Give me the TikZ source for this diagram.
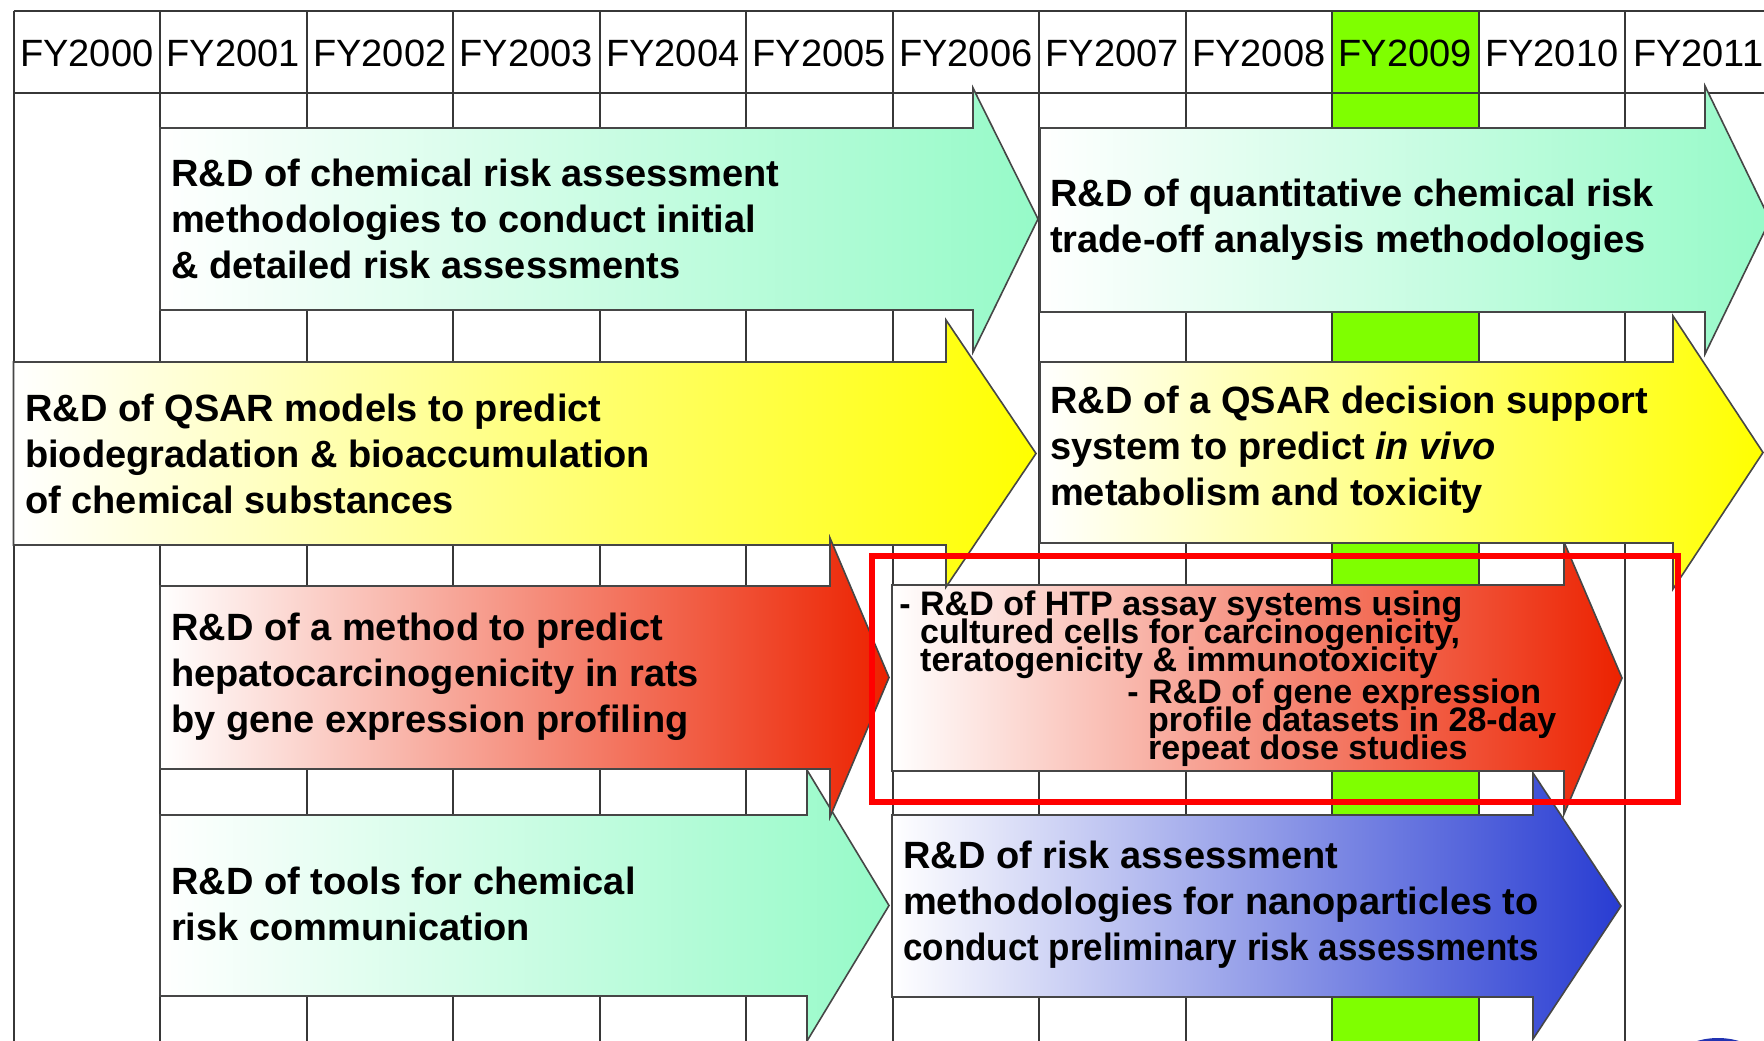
\documentclass[tikz,border=0pt]{standalone}
\usepackage{fontspec}
\setmainfont{Liberation Sans}
\definecolor{mint}{RGB}{150,250,200}
\definecolor{yel}{RGB}{255,255,0}
\definecolor{redd}{RGB}{236,34,0}
\definecolor{lpink}{RGB}{249,220,220}
\definecolor{bluu}{RGB}{40,60,210}
\definecolor{lblue}{RGB}{185,188,238}
\definecolor{chart}{RGB}{127,255,0}
\definecolor{gridc}{RGB}{55,55,55}
\definecolor{boxc}{RGB}{70,70,70}
\newcommand\fatarrow[8]{%
  \path[#1] (#2,#3) -- (#5,#3) -- (#5,#6) -- (#8,{(#3+#4)/2}) -- (#5,#7) -- (#5,#4) -- (#2,#4) -- cycle;}
\newcommand\tightlines{\lineskiplimit=-100pt\relax\lineskip=0pt\relax}
\tikzset{
  gridline/.style={draw=gridc, line width=2pt},
  arrowbox/.style={draw=boxc, line width=1.6pt},
  bigtxt/.style={anchor=west, align=left, inner sep=0pt, font=\fontsize{38}{46}\selectfont\bfseries},
  smalltxt/.style={anchor=west, align=left, inner sep=0pt, font=\fontsize{34}{28}\selectfont\bfseries\tightlines},
  hdr/.style={inner sep=0pt, font=\fontsize{38}{44}\selectfont},
}
\begin{document}
\begin{tikzpicture}[x=1pt,y=-1pt]
\useasboundingbox (0,0) rectangle (1764,1041);
\fill[white] (0,0) rectangle (1764,1041);
% highlighted FY2009 column
\fill[chart] (1332,11.5) rectangle (1478.5,1041);
% grid
\foreach \i in {0,...,11} {
  \draw[gridline] ({13.5+146.5*\i},11.5) -- ({13.5+146.5*\i},1041);
}
\draw[gridline] (13.5,11.5) -- (1764,11.5);
\draw[gridline] (13.5,93) -- (1764,93);
% header labels
\foreach \i/\yr in {0/2000,1/2001,2/2002,3/2003,4/2004,5/2005,6/2006,7/2007,8/2008,9/2009,10/2010,11/2011} {
  \node[hdr] (h\i) at ({13.5+146.5*(\i+0.5)},53) {FY\yr};
}
% arrows (drawn so that upper ones lie on top)
\fatarrow{arrowbox, left color=white, middle color=lblue, right color=bluu}{892}{815}{997}{1533}{773}{1039}{1621}
\fatarrow{arrowbox, left color=white, middle color=lpink, right color=redd}{892}{585}{771}{1564}{542}{814}{1622}
\fatarrow{arrowbox, left color=white, right color=mint}{160}{815}{996}{807}{770}{1041}{889}
\fatarrow{arrowbox, left color=white, right color=yel}{1040}{362}{543}{1673}{316}{589}{1763}
\fatarrow{arrowbox, left color=white, right color=yel}{13.5}{362}{545}{946}{320}{587}{1036}
\fatarrow{arrowbox, left color=white, right color=redd}{160}{586}{769}{830}{538}{817}{889}
\fatarrow{arrowbox, left color=white, right color=mint}{1040}{128}{312}{1705}{86}{354}{1770}
\fatarrow{arrowbox, left color=white, right color=mint}{160}{128}{310}{973}{88}{352}{1038}
% arrow texts
\node[bigtxt] (t1) at (171,219) {R\&D of chemical risk assessment\\methodologies to conduct initial\\\& detailed risk assessments};
\node[bigtxt] (t2) at (25,454) {R\&D of QSAR models to predict\\biodegradation \& bioaccumulation\\of chemical substances};
\node[bigtxt] (t3) at (171,677) {R\&D of a method to predict\\hepatocarcinogenicity in rats\\by gene expression profiling};
\node[bigtxt] (t4) at (171,904) {R\&D of tools for chemical\\risk communication};
\node[bigtxt] (t5) at (1050,220) {R\&D of quantitative chemical risk\\trade-off analysis methodologies};
\node[bigtxt] (t6) at (1050,450) {R\&D of a QSAR decision support\\system to predict \textit{in vivo}\\metabolism and toxicity};
\node[bigtxt] (t8) at (903,905) {R\&D of risk assessment\\methodologies for nanoparticles to\\\scalebox{0.92}[1]{conduct preliminary risk assessments}};
\node[smalltxt] (t7a) at (920,635) {\llap{- }R\&D of HTP assay systems using\\cultured cells for carcinogenicity,\\teratogenicity \& immunotoxicity};
\node[smalltxt] (t7b) at (1148,723) {\llap{- }R\&D of gene expression\\profile datasets in 28-day\\repeat dose studies};
% highlight frame
\draw[red, line width=6pt] (872,556) rectangle (1678,802);
% partial blue shape at the corner
\fill[bluu!85!black] (1718,1068) ellipse [x radius=48, y radius=30];
\end{tikzpicture}
\end{document}
